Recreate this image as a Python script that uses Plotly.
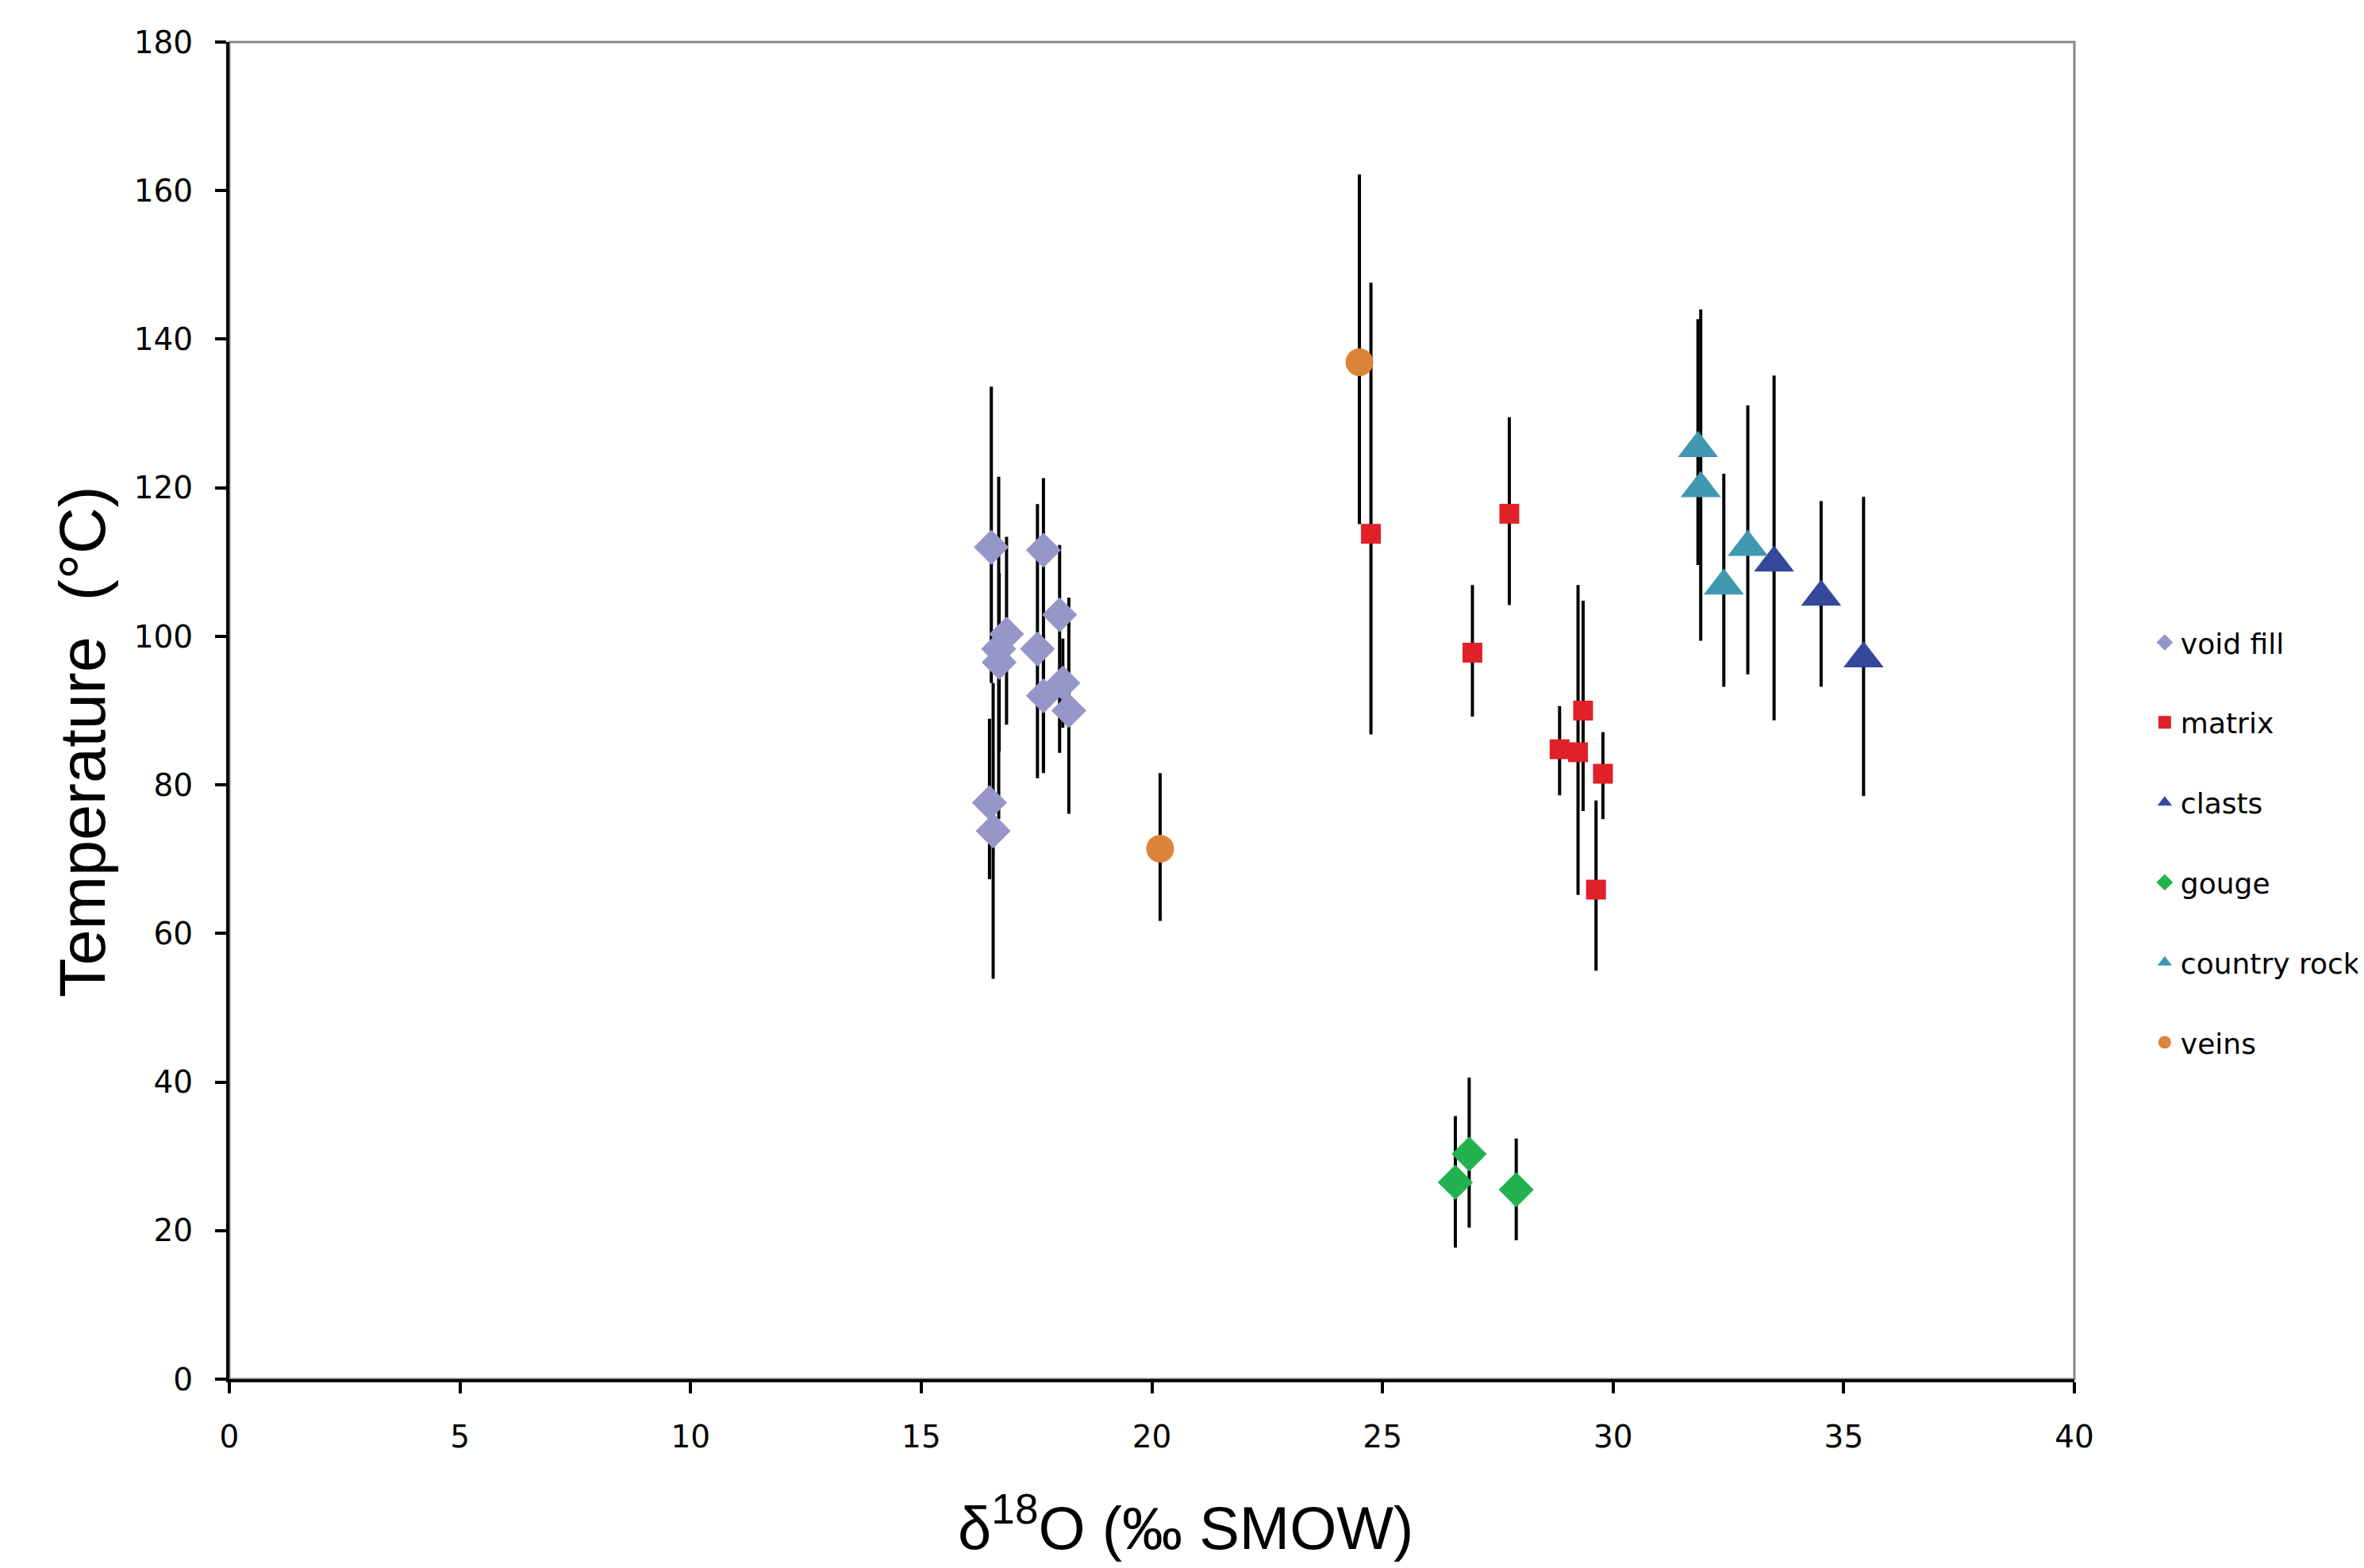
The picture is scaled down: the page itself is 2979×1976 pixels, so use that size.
import plotly.graph_objects as go

# ---- data ----
void_x = [16.52, 16.85, 16.68, 16.69, 17.65, 18.00, 17.52, 17.65, 18.07, 18.20, 16.48, 16.56]
void_y = [112.0, 100.3, 98.3, 96.5, 111.6, 102.9, 98.3, 92.0, 93.7, 90.0, 77.6, 73.8]
void_plus = [21.6, 13.1, 23.2, 12.0, 9.7, 9.4, 19.5, 8.0, 6.0, 15.2, 11.3, 19.9]
void_minus = [18.3, 12.2, 22.9, 12.0, 30.0, 18.6, 17.4, 10.0, 6.0, 13.9, 10.3, 19.9]

matrix_x = [24.75, 26.95, 27.75, 28.84, 29.35, 29.24, 29.78, 29.63]
matrix_y = [113.8, 97.8, 116.5, 84.8, 90.0, 84.4, 81.5, 65.9]
matrix_plus = [33.8, 9.1, 13.0, 5.8, 14.8, 22.5, 5.6, 12.0]
matrix_minus = [27.0, 8.6, 12.3, 6.2, 13.5, 19.2, 6.1, 10.9]

clasts_x = [33.49, 34.51, 35.43]
clasts_y = [109.9, 105.3, 97.0]
clasts_plus = [25.2, 12.9, 21.8]
clasts_minus = [21.2, 12.1, 18.5]

gouge_x = [26.58, 26.88, 27.90]
gouge_y = [26.5, 30.3, 25.5]
gouge_plus = [8.9, 10.3, 6.9]
gouge_minus = [8.8, 9.9, 6.8]

country_x = [31.84, 31.90, 32.92, 32.40]
country_y = [125.3, 119.9, 112.0, 106.8]
country_plus = [17.4, 24.1, 19.1, 15.1]
country_minus = [15.7, 20.5, 17.1, 13.6]

veins_x = [24.50, 20.18]
veins_y = [136.9, 71.4]
veins_plus = [25.3, 10.2]
veins_minus = [21.8, 9.7]

x_ticks = [0, 5, 10, 15, 20, 25, 30, 35, 40]
y_ticks = [0, 20, 40, 60, 80, 100, 120, 140, 160, 180]

series = [
    ("void fill", void_x, void_y, void_plus, void_minus, "diamond", 34, "#9696C9"),
    ("matrix", matrix_x, matrix_y, matrix_plus, matrix_minus, "square", 25, "#E0212A"),
    ("clasts", clasts_x, clasts_y, clasts_plus, clasts_minus, "triangle-up", 44, "#36489C"),
    ("gouge", gouge_x, gouge_y, gouge_plus, gouge_minus, "diamond", 34, "#22B24F"),
    ("country rock", country_x, country_y, country_plus, country_minus, "triangle-up", 44, "#4099B0"),
    ("veins", veins_x, veins_y, veins_plus, veins_minus, "circle", 35, "#DC843A"),
]

W, H = 2979, 1976
OFF = 8  # page body offset
L, R, T, B = 289 - OFF, 2614 - OFF, 53 - OFF, 1738 - OFF

def px_to_paper_x(px):
    return (px - OFF - L) / (R - L)

def px_to_paper_y(py):
    return (B - (py - OFF)) / (B - T)

fig = go.Figure()
for i, (name, xs, ys, ep, em, sym, sz, col) in enumerate(series):
    fig.add_trace(go.Scatter(
        x=xs, y=ys, mode="markers", name=name, legendgroup=f"g{i}",
        marker=dict(symbol=sym, size=sz, color=col, line=dict(width=0)),
        error_y=dict(type="data", symmetric=False, array=ep, arrayminus=em,
                     color="black", thickness=4, width=0),
    ))

fig.update_layout(
    width=W, height=H,
    margin=dict(l=L, r=W - R, t=T, b=H - B, autoexpand=False),
    paper_bgcolor="white", plot_bgcolor="white",
    font=dict(family="DejaVu Sans", color="black"),
    showlegend=True,
    legend=dict(
        xref="container", yref="container", x=0.9063, y=0.6095,
        xanchor="left", yanchor="top",
        font=dict(family="DejaVu Sans", size=36, color="black"),
        itemsizing="trace", tracegroupgap=51,
        bgcolor="rgba(0,0,0,0)",
    ),
    xaxis=dict(
        range=[0, 40], tickvals=x_ticks, ticktext=[str(v) for v in x_ticks],
        showgrid=False, zeroline=False,
        showline=True, linecolor="black", linewidth=4,
        ticks="outside", ticklen=14, tickwidth=4, tickcolor="black",
        tickfont=dict(family="DejaVu Sans", size=39, color="black"),
        ticklabelstandoff=21,
    ),
    yaxis=dict(
        range=[0, 180], tickvals=y_ticks, ticktext=[str(v) for v in y_ticks],
        showgrid=False, zeroline=False,
        showline=True, linecolor="black", linewidth=4,
        ticks="outside", ticklen=14, tickwidth=4, tickcolor="black",
        tickfont=dict(family="DejaVu Sans", size=39, color="black"),
        ticklabelstandoff=20,
    ),
    shapes=[dict(type="rect", xref="paper", yref="paper", x0=0, x1=1, y0=0, y1=1,
                 line=dict(color="#878787", width=3), layer="below")],
    annotations=[
        dict(text="Temperature  (°C)", textangle=-90, xref="paper", yref="paper",
             x=px_to_paper_x(104), y=px_to_paper_y(935), xanchor="center", yanchor="middle",
             showarrow=False,
             font=dict(family="Liberation Sans", size=81, color="black")),
        dict(text="δ<sup>18</sup>O (‰ SMOW)", xref="paper", yref="paper",
             x=px_to_paper_x(1494), y=px_to_paper_y(1920), xanchor="center", yanchor="middle",
             showarrow=False,
             font=dict(family="Liberation Sans", size=76, color="black")),
    ],
)

fig.write_html("out.html")
